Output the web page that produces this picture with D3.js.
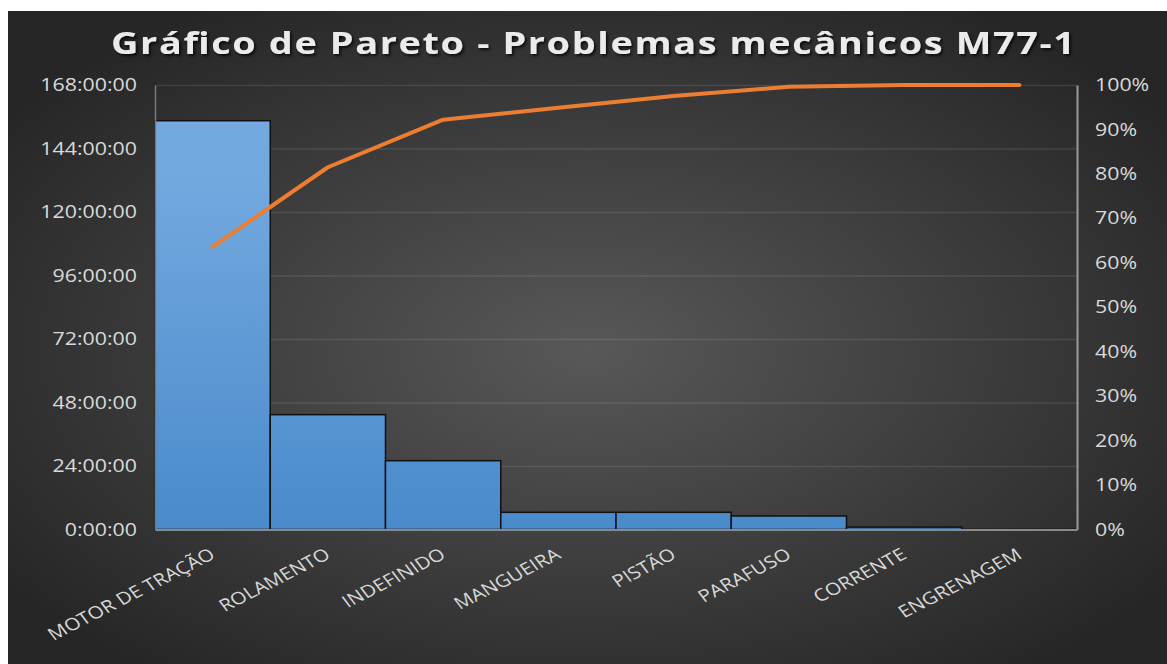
<!DOCTYPE html>
<html>
<head>
<meta charset="utf-8">
<script src="https://cdn.jsdelivr.net/npm/d3@7"></script>
<style>
  body { margin: 0; background: #fff; }
  svg { display: block; }
</style>
</head>
<body>
<script>
const canvWidth = 1167, canvHeight = 664;
const margin = {top: 85, right: 90, bottom: 134.5, left: 155};
const sx = 1.22; // the picture is stretched sideways, text gets the same stretch

// data
const categories = ["MOTOR DE TRAÇÃO", "ROLAMENTO", "INDEFINIDO", "MANGUEIRA",
                    "PISTÃO", "PARAFUSO", "CORRENTE", "ENGRENAGEM"];
const hours = [154.5, 43.4, 26.0, 6.5, 6.5, 5.1, 0.9, 0.05];
const cumulativePct = [63.6, 81.5, 92.2, 94.9, 97.5, 99.6, 100, 100];
const hourTicks = [0, 24, 48, 72, 96, 120, 144, 168];
const pctTicks = [0, 10, 20, 30, 40, 50, 60, 70, 80, 90, 100];
const title = "Gráfico de Pareto - Problemas mecânicos M77-1";

const width = canvWidth - margin.left - margin.right;
const height = canvHeight - margin.top - margin.bottom;

const svg = d3.select("body").append("svg")
    .attr("width", canvWidth)
    .attr("height", canvHeight);

const defs = svg.append("defs");

const bg = defs.append("radialGradient").attr("id", "bg")
    .attr("cx", "50%").attr("cy", "52%").attr("r", "62%");
bg.append("stop").attr("offset", "0%").attr("stop-color", "#585858");
bg.append("stop").attr("offset", "100%").attr("stop-color", "#262626");

const barFill = defs.append("linearGradient").attr("id", "barFill")
    .attr("gradientUnits", "userSpaceOnUse")
    .attr("x1", 0).attr("x2", 0).attr("y1", margin.top).attr("y2", margin.top + height);
barFill.append("stop").attr("offset", "0%").attr("stop-color", "#74a9df");
barFill.append("stop").attr("offset", "100%").attr("stop-color", "#3f83c6");

defs.append("filter").attr("id", "shadow")
    .attr("x", "-5%").attr("y", "-20%").attr("width", "110%").attr("height", "160%")
  .append("feDropShadow")
    .attr("dx", 1.5).attr("dy", 2).attr("stdDeviation", 1.5)
    .attr("flood-color", "#000").attr("flood-opacity", 0.75);

svg.append("rect")
    .attr("x", 8).attr("y", 11)
    .attr("width", canvWidth - 8).attr("height", canvHeight - 11)
    .attr("fill", "url(#bg)");

svg.append("text")
    .attr("transform", `translate(593,54) scale(${sx},1)`)
    .attr("text-anchor", "middle")
    .attr("font-family", "'Open Sans', sans-serif")
    .attr("font-weight", "bold")
    .attr("font-size", "31px")
    .attr("fill", "#ebebeb")
    .attr("textLength", 790)
    .attr("lengthAdjust", "spacing")
    .attr("filter", "url(#shadow)")
    .text(title);

const g = svg.append("g")
    .attr("transform", `translate(${margin.left},${margin.top})`);

const xScale = d3.scaleBand().domain(categories).range([0, width]).padding(0);
const yScale = d3.scaleLinear().domain([0, 168]).range([height, 0]);
const pScale = d3.scaleLinear().domain([0, 100]).range([height, 0]);

const fmtHours = h => `${h}:00:00`;

// gridlines
g.append("g")
    .call(d3.axisLeft(yScale).tickValues(hourTicks).tickSize(-width).tickFormat(""))
    .call(a => a.select(".domain").remove())
    .call(a => a.selectAll("line").attr("stroke", "#ffffff").attr("stroke-opacity", 0.1).attr("stroke-width", 1.3));

// bars
g.selectAll("rect.bar")
    .data(hours)
    .enter().append("rect")
    .attr("class", "bar")
    .attr("x", (d, i) => xScale(categories[i]))
    .attr("y", d => yScale(d))
    .attr("width", xScale.bandwidth())
    .attr("height", d => height - yScale(d))
    .attr("fill", "url(#barFill)")
    .attr("stroke", "#111")
    .attr("stroke-width", 1.5);

// left axis
const yAxis = g.append("g")
    .call(d3.axisLeft(yScale).tickValues(hourTicks).tickSize(0).tickFormat(fmtHours));
yAxis.select(".domain").attr("stroke", "#7a7a7a").attr("stroke-width", 1.5);
yAxis.selectAll("text")
    .attr("x", -18 / sx)
    .attr("transform", `scale(${sx},1)`)
    .attr("fill", "#d9d9d9")
    .attr("font-family", "'Open Sans', sans-serif")
    .attr("font-size", "17.5px");

// right axis
const pAxis = g.append("g")
    .attr("transform", `translate(${width},0)`)
    .call(d3.axisRight(pScale).tickValues(pctTicks).tickSize(0).tickFormat(d => d + "%"));
pAxis.select(".domain").attr("stroke", "#9a9a9a").attr("stroke-width", 2);
pAxis.selectAll("text")
    .attr("x", 18 / sx)
    .attr("transform", `scale(${sx},1)`)
    .attr("fill", "#d9d9d9")
    .attr("font-family", "'Open Sans', sans-serif")
    .attr("font-size", "17.5px");

// bottom axis
const xAxis = g.append("g")
    .attr("transform", `translate(0,${height})`)
    .call(d3.axisBottom(xScale).tickSize(0).tickFormat(""));
xAxis.select(".domain").attr("stroke", "#8a8a8a").attr("stroke-width", 2);

g.append("g").selectAll("text")
    .data(categories)
    .enter().append("text")
    .attr("transform", d => `translate(${xScale(d) + xScale.bandwidth() / 2},${height + 23}) scale(${sx},1) rotate(-32)`)
    .attr("text-anchor", "end")
    .attr("dy", "0.35em")
    .attr("fill", "#d9d9d9")
    .attr("font-family", "'Open Sans', sans-serif")
    .attr("font-size", "17px")
    .text(d => d);

// cumulative line
const line = d3.line()
    .x((d, i) => xScale(categories[i]) + xScale.bandwidth() / 2)
    .y(d => pScale(d));

g.append("path")
    .datum(cumulativePct)
    .attr("d", line)
    .attr("fill", "none")
    .attr("stroke", "#ed7d31")
    .attr("stroke-width", 4)
    .attr("stroke-linecap", "round")
    .attr("stroke-linejoin", "round");
</script>
</body>
</html>
